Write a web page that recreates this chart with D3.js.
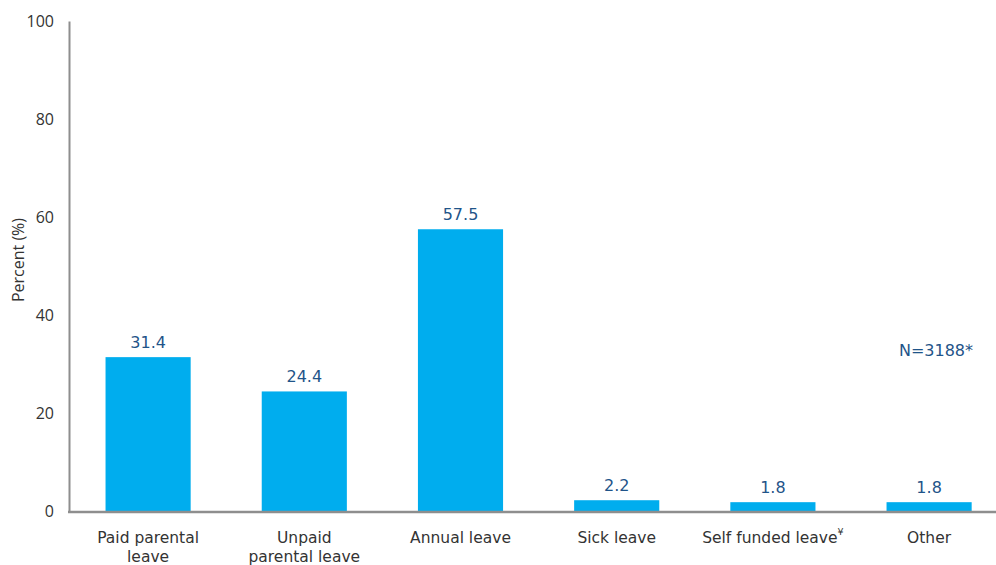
<!DOCTYPE html>
<html>
<head>
<meta charset="utf-8">
<script src="https://cdn.jsdelivr.net/npm/d3@7"></script>
<style>
  html, body { margin: 0; padding: 0; background: #fff; }
  svg { display: block; }
</style>
</head>
<body>
<svg id="chart" width="996" height="565"></svg>
<script>
// Type of leave taken
const categories = [["Paid parental", "leave"], ["Unpaid", "parental leave"], ["Annual leave"], ["Sick leave"], ["Self funded leave"], ["Other"]];
const values = [31.4, 24.4, 57.5, 2.2, 1.8, 1.8];
const yTicks = [0, 20, 40, 60, 80, 100];
const sampleNote = "N=3188*";

const svg = d3.select("#chart");
const W = 996, H = 565;
const plotLeft = 69, plotBase = 511, plotTop = 21;

const x = d3.scaleBand()
  .domain(d3.range(values.length))
  .range([plotLeft + 1, plotLeft + 1 + 156.2 * values.length])
  .paddingInner(0.455)
  .paddingOuter(0.2275);

const y = d3.scaleLinear().domain([0, 100]).range([plotBase, plotTop]);

// bars
svg.append("g").selectAll("rect")
  .data(values)
  .join("rect")
  .attr("x", (d, i) => x(i))
  .attr("width", x.bandwidth())
  .attr("y", d => y(d))
  .attr("height", d => y(0) - y(d))
  .attr("fill", "#00ADEE");

// value labels
svg.append("g").selectAll("text")
  .data(values)
  .join("text")
  .attr("x", (d, i) => x(i) + x.bandwidth() / 2)
  .attr("y", d => y(d) - 9)
  .attr("text-anchor", "middle")
  .attr("font-family", "DejaVu Sans, Verdana, sans-serif")
  .attr("font-size", 16)
  .attr("fill", "#1F5489")
  .text(d => d.toFixed(1));

// y axis
const yAxis = d3.axisLeft(y).tickValues(yTicks).tickSize(0).tickPadding(15);
const gy = svg.append("g").attr("transform", `translate(${plotLeft},0)`).call(yAxis);
gy.select(".domain").attr("stroke", "#8E8E8E").attr("stroke-width", 2);
gy.selectAll("text")
  .attr("font-family", "'Open Sans', sans-serif")
  .attr("font-size", 16)
  .attr("fill", "#333");

// x axis baseline
svg.append("line")
  .attr("x1", plotLeft - 1).attr("x2", W)
  .attr("y1", plotBase + 1).attr("y2", plotBase + 1)
  .attr("stroke", "#8E8E8E").attr("stroke-width", 2.5);

// category labels
const cat = svg.append("g").selectAll("text")
  .data(categories)
  .join("text")
  .attr("x", (d, i) => x(i) + x.bandwidth() / 2)
  .attr("y", 543)
  .attr("text-anchor", "middle")
  .attr("font-family", "DejaVu Sans, Verdana, sans-serif")
  .attr("font-size", 15.5)
  .attr("fill", "#333");
cat.each(function(d, i) {
  const t = d3.select(this);
  d.forEach((line, k) => {
    t.append("tspan").attr("x", x(i) + x.bandwidth() / 2).attr("dy", k === 0 ? 0 : 19).text(line);
  });
  if (d[0] === "Self funded leave") {
    t.append("tspan").attr("dy", -8).attr("font-size", 9.5).text("¥");
  }
});

// y axis title
svg.append("text")
  .attr("transform", "translate(24,260) rotate(-90)")
  .attr("text-anchor", "middle")
  .attr("font-family", "'Open Sans', sans-serif")
  .attr("font-size", 16)
  .attr("fill", "#333")
  .text("Percent (%)");

// sample size note
svg.append("text")
  .attr("x", 936)
  .attr("y", 356)
  .attr("text-anchor", "middle")
  .attr("font-family", "DejaVu Sans, Verdana, sans-serif")
  .attr("font-size", 16)
  .attr("fill", "#1F5489")
  .text(sampleNote);
</script>
</body>
</html>
